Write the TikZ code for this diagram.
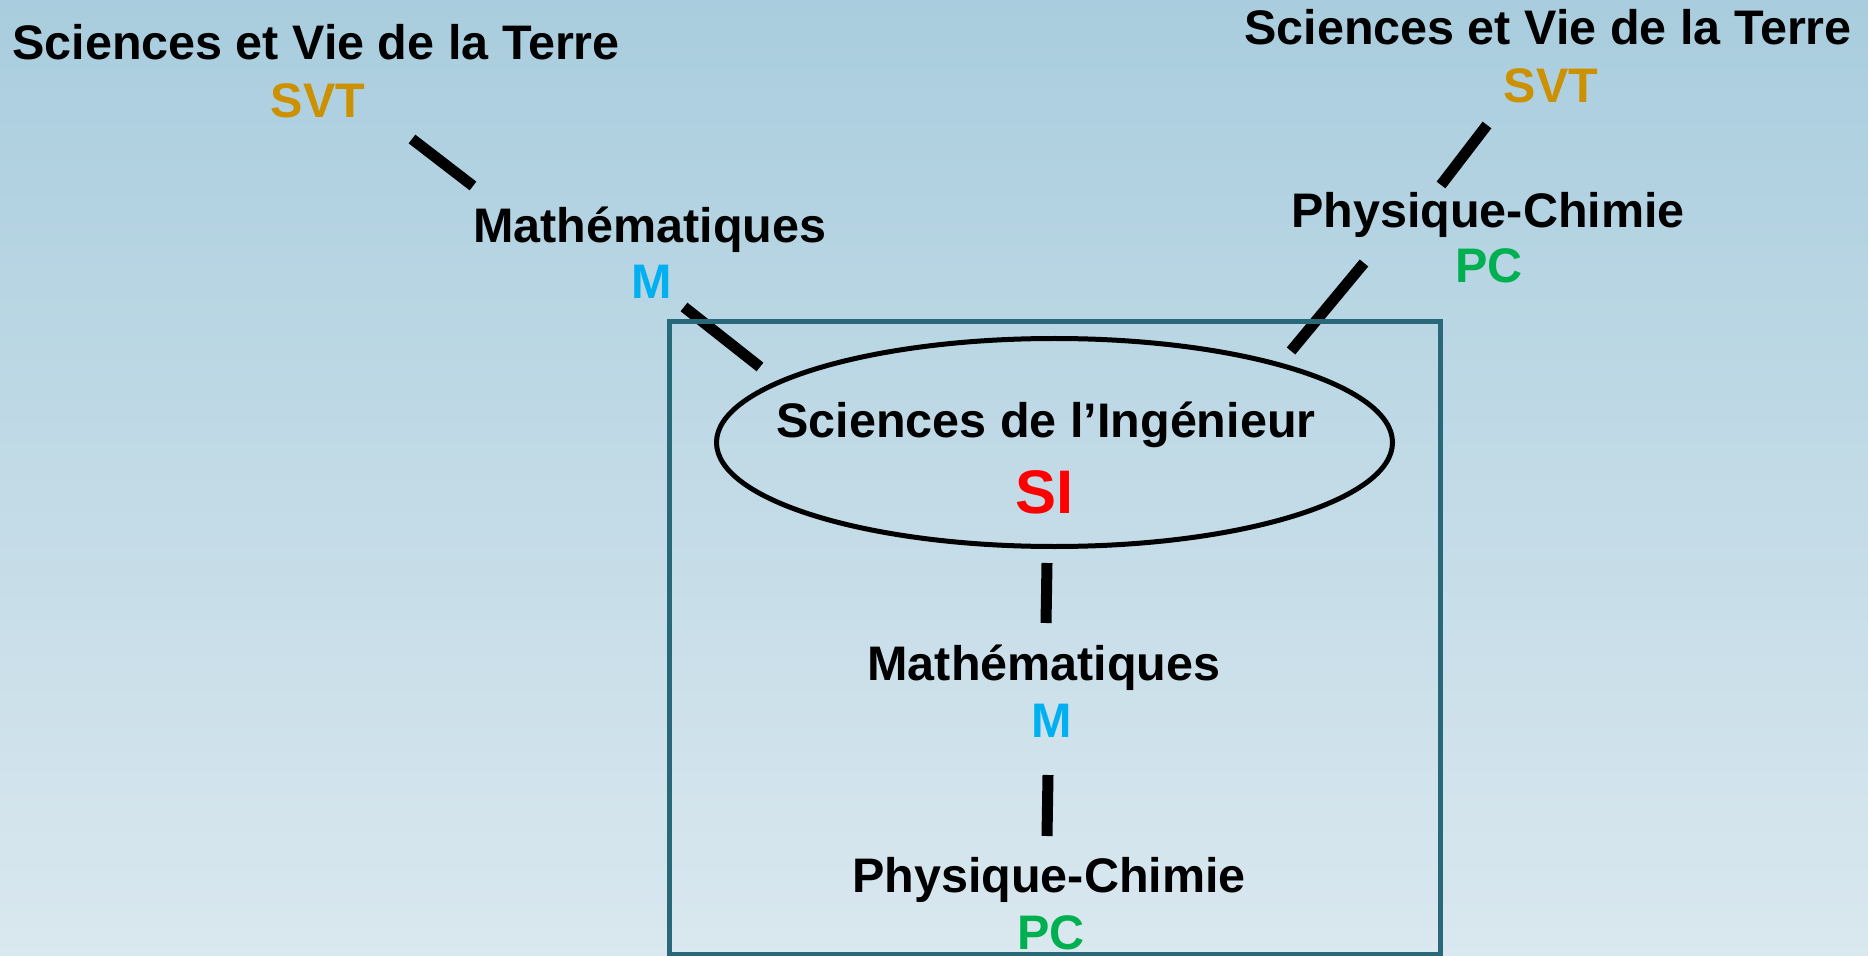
\documentclass[tikz,border=0pt]{standalone}
\usepackage{fontspec}
\setmainfont{Liberation Sans}
\usetikzlibrary{shapes.geometric}

\definecolor{bgtop}{RGB}{169,205,222}
\definecolor{bgbottom}{RGB}{218,232,239}
\definecolor{framecol}{RGB}{41,104,120}
\definecolor{svtcol}{RGB}{204,145,0}
\definecolor{mcol}{RGB}{0,176,240}
\definecolor{pccol}{RGB}{0,176,80}

\begin{document}
\begin{tikzpicture}[x=1cm, y=-1cm,
        subject/.style={anchor=base, inner sep=0pt, font=\fontsize{13.8}{16}\selectfont\bfseries},
        abbr/.style={subject},
        link/.style={line width=1.1mm}]
        \shade[top color=bgtop, bottom color=bgbottom] (0,0) rectangle (18.68,9.56);
        \useasboundingbox (0,0) rectangle (18.68,9.56);

        % left branch
        \node[subject] (svtLeft) at (3.16,0.60) {Sciences et Vie de la Terre};
        \node[abbr, text=svtcol] (svtLeftAbbr) at (3.18,1.18) {SVT};
        \node[subject] (mathLeft) at (6.50,2.43) {Mathématiques};
        \node[abbr, text=mcol] (mathLeftAbbr) at (6.52,2.99) {M};
        \coordinate (l1a) at (4.12,1.39);
        \coordinate (l1b) at (4.73,1.86);
        \coordinate (l2a) at (6.84,3.07);
        \coordinate (l2b) at (7.60,3.67);
        \draw[link] (l1a) -- (l1b);
        \draw[link] (l2a) -- (l2b);

        % right branch
        \node[subject] (svtRight) at (15.48,0.45) {Sciences et Vie de la Terre};
        \node[abbr, text=svtcol] (svtRightAbbr) at (15.51,1.03) {SVT};
        \node[subject] (pcRight) at (14.88,2.28) {Physique-Chimie};
        \node[abbr, text=pccol] (pcRightAbbr) at (14.89,2.83) {PC};
        \coordinate (r1a) at (14.87,1.25);
        \coordinate (r1b) at (14.41,1.85);
        \coordinate (r2a) at (13.64,2.63);
        \coordinate (r2b) at (12.91,3.51);
        \draw[link] (r1a) -- (r1b);
        \draw[link] (r2a) -- (r2b);

        % SI block
        \draw[line width=0.5mm, framecol] (6.69,3.22) rectangle (14.40,9.54);
        \node[draw, ellipse, line width=0.5mm, minimum width=6.76cm, minimum height=2.08cm, inner sep=0pt] (si) at (10.545,4.425) {};
        \node[subject] (siTitle) at (10.46,4.38) {Sciences de l’Ingénieur};
        \node[abbr, text=red, font=\fontsize{17.5}{20}\selectfont\bfseries] (siAbbr) at (10.45,5.13) {SI};
        \node[subject] (mathIn) at (10.44,6.80) {Mathématiques};
        \node[abbr, text=mcol] (mathInAbbr) at (10.52,7.37) {M};
        \node[subject] (pcIn) at (10.49,8.92) {Physique-Chimie};
        \node[abbr, text=pccol] (pcInAbbr) at (10.51,9.49) {PC};
        \coordinate (c1a) at (10.47,5.63);
        \coordinate (c1b) at (10.46,6.23);
        \coordinate (c2a) at (10.48,7.75);
        \coordinate (c2b) at (10.47,8.36);
        \draw[link] (c1a) -- (c1b);
        \draw[link] (c2a) -- (c2b);
\end{tikzpicture}
\end{document}
